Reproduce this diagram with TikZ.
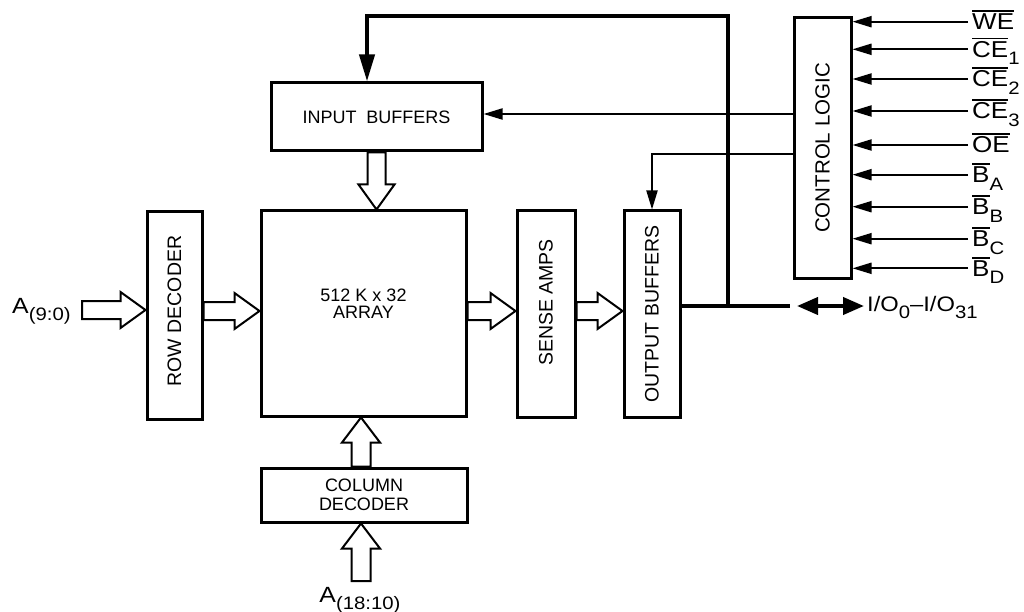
\documentclass[tikz,border=0pt]{standalone}
\usepackage{fontspec}
\setmainfont{Liberation Sans}
\newfontfamily\sigfont[FakeStretch=1.13,Ligatures=TeX]{Liberation Sans}
\usetikzlibrary{arrows.meta,calc}

% overlined (active low) signal name
\newcommand{\ovl}[1]{\vbox{\hrule height 1.8pt\kern 1.8pt\hbox{#1}}}
% lowered index of a signal name
\newcommand{\sub}[1]{\raisebox{-7.5pt}{\fontsize{18}{18}\selectfont #1}}
% hollow block arrow between two points, #1 = half width of shaft
\newcommand{\fatarrow}[3][9]{%
  \draw [hollow] let \p1=#2, \p2=#3, \n1={veclen(\x2-\x1,\y2-\y1)},
    \n2={(\x2-\x1)/\n1}, \n3={(\y2-\y1)/\n1} in
    ({\x1-(\n3)*#1pt},{\y1+(\n2)*#1pt})
    -- ({\x2-(\n2)*25pt-(\n3)*#1pt},{\y2-(\n3)*25pt+(\n2)*#1pt})
    -- ({\x2-(\n2)*25pt-(\n3)*2*#1pt},{\y2-(\n3)*25pt+(\n2)*2*#1pt})
    -- (\x2,\y2)
    -- ({\x2-(\n2)*25pt+(\n3)*2*#1pt},{\y2-(\n3)*25pt-(\n2)*2*#1pt})
    -- ({\x2-(\n2)*25pt+(\n3)*#1pt},{\y2-(\n3)*25pt-(\n2)*#1pt})
    -- ({\x1+(\n3)*#1pt},{\y1-(\n2)*#1pt}) -- cycle;}

\begin{document}
\begin{tikzpicture}[x=1pt,y=-1pt,
  box/.style={draw,line width=3pt,inner sep=0pt,align=center,
    font=\fontsize{18}{19}\selectfont},
  vtext/.style={font=\fontsize{19.5}{20}\selectfont},
  hollow/.style={draw,line width=2pt,fill=white,line join=miter},
  bus/.style={line width=4pt},
  ctl/.style={line width=2pt,-{Triangle[length=19pt,width=11pt]}},
  sig/.style={anchor=base west,inner sep=0pt,font=\sigfont\fontsize{23}{23}\selectfont}]
\useasboundingbox (0,0) rectangle (1024,612);

% blocks
\node[box,minimum width=211,minimum height=68] (inbuf) at (376.5,117) {INPUT\ \ BUFFERS};
\node[box,minimum width=205,minimum height=205,
  label={[align=center,font=\fontsize{18}{17.5}\selectfont,yshift=10pt]center:{512 K x 32\\ARRAY}}]
  (array) at (363.5,313.5) {};
\node[box,vtext,minimum width=55,minimum height=207] (rowdec) at (174.5,315.5)
  {\rotatebox{90}{\hspace{9pt}ROW DECODER}};
\node[box,vtext,minimum width=58,minimum height=206] (sense) at (546,314)
  {\rotatebox{90}{\hspace{23pt}SENSE AMPS}};
\node[box,vtext,minimum width=56,minimum height=206] (outbuf) at (652,314)
  {\rotatebox{90}{OUTPUT BUFFERS}};
\node[box,minimum width=206,minimum height=54] (coldec) at (364,495) {COLUMN\\DECODER};
\node[box,minimum width=57,minimum height=260,font=\fontsize{20.5}{21}\selectfont]
  (ctrl) at (822.5,148) {\rotatebox{90}{CONTROL LOGIC}};

% address inputs
\node[sig,font=\sigfont\fontsize{22}{22}\selectfont] (alow) at (12,313) {A\sub{(9:0)}};
\node[sig,font=\sigfont\fontsize{22}{22}\selectfont,anchor=base] (ahigh) at (360,602) {A\sub{(18:10)}};
\coordinate (mid) at (0,311);
\coordinate (ain) at (82,310);
\coordinate (colx) at (361,0);
\coordinate (abot) at (361,581);

\fatarrow{(ain)}{(ain -| rowdec.west)}
\fatarrow{(rowdec.east |- mid)}{(array.west |- mid)}
\fatarrow{(array.east |- mid)}{(sense.west |- mid)}
\fatarrow{(sense.east |- mid)}{(outbuf.west |- mid)}
\fatarrow{(inbuf.south)}{(inbuf.south |- array.north)}
\fatarrow[9.5]{(colx |- coldec.north)}{(colx |- array.south)}
\fatarrow[9.5]{(abot)}{(colx |- coldec.south)}

% data bus
\coordinate (jn) at (728,306);
\coordinate (turn) at (728,16);
\coordinate (busend) at (790,306);
\draw[bus] (outbuf.east |- busend) -- (busend);
\draw[bus,-{Triangle[length=27pt,width=15pt]}] (jn) -- (turn) -| ([xshift=-9.5pt]inbuf.north);
\coordinate (ioL) at (797,306);
\coordinate (ioR) at (864,306);
\draw[bus,{Triangle[length=21pt,width=17pt]}-{Triangle[length=21pt,width=17pt]}] (ioL) -- (ioR);
\node[sig,font=\sigfont\fontsize{21}{21}\selectfont] (io) at (867,311)
  {I/O\sub{0}–I/O\sub{31}};

% control
\coordinate (c1) at ([yshift=34pt]ctrl.west);
\coordinate (c2) at ([yshift=-6pt]ctrl.west);
\draw[ctl] (c1) -- (c1 -| inbuf.east);
\draw[ctl] (c2) -| (outbuf.north);

\foreach \y/\s [count=\i] in {21.7/{\ovl{WE}},
    49.3/{\ovl{CE}\sub{1}}, 79/{\ovl{CE}\sub{2}},
    111/{\ovl{CE}\sub{3}}, 145/{\ovl{OE}},
    174.7/{\ovl{B}\sub{A}}, 206.7/{\ovl{B}\sub{B}},
    238.7/{\ovl{B}\sub{C}}, 268.3/{\ovl{B}\sub{D}}}{
  \coordinate (in\i) at (968,\y);
  \draw[ctl] (in\i) -- (in\i -| ctrl.east);
  \node[sig] (s\i) at (972,\y+8) {\s};
}
\end{tikzpicture}
\end{document}
